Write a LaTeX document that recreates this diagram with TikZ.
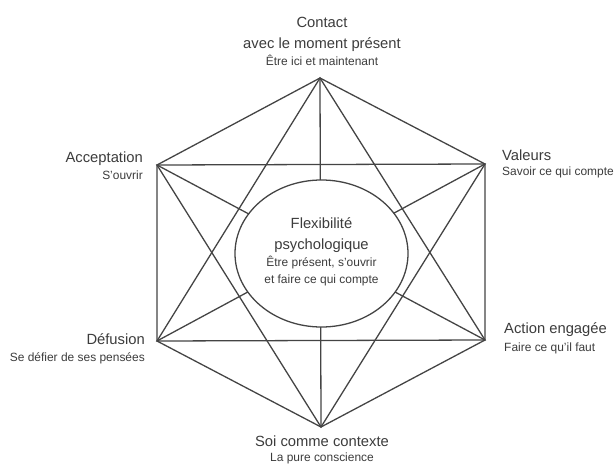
\documentclass[tikz,border=0pt]{standalone}
\usepackage{fontspec}
\setmainfont{Liberation Sans}
\usetikzlibrary{shapes.geometric,positioning}
\definecolor{inkgray}{HTML}{3C3C3C}
\definecolor{linegray}{HTML}{444444}
\newcommand{\bigtxt}{\fontsize{12.6}{15}\selectfont}
\newcommand{\smalltxt}{\fontsize{10.2}{12}\selectfont}

\begin{document}
\begin{tikzpicture}[x=0.3mm,y=-0.3mm,
  edge/.style={draw=linegray,line width=1.1pt},
  title/.style={text=inkgray,inner sep=0pt,font=\bigtxt},
  sub/.style={text=inkgray,inner sep=0pt,font=\smalltxt}]
  \useasboundingbox[fill=white] (0,0) rectangle (616,465);
  \coordinate (contact) at (320,78);
  \coordinate (accept) at (157,165);
  \coordinate (valeurs) at (485,164);
  \coordinate (defus) at (157,341);
  \coordinate (action) at (485,340);
  \coordinate (soi) at (321,427);
  \draw[edge] (contact) -- (accept) -- (defus) -- (soi) -- (action) -- (valeurs) -- cycle;
  \draw[edge] (contact) -- (defus) -- (action) -- cycle;
  \draw[edge] (soi) -- (accept) -- (valeurs) -- cycle;
  \draw[edge] (contact) -- (soi);
  \draw[edge] (accept) -- (action);
  \draw[edge] (valeurs) -- (defus);
  \node[ellipse,draw=linegray,line width=1.1pt,fill=white,inner sep=0pt,
        minimum width=51.9mm,minimum height=44.1mm] (flex) at (321.5,253.5) {};
  \node[title,anchor=base] (flex1) at (321.5,228) {Flexibilité};
  \node[title,anchor=base] (flex2) at (321.5,249) {psychologique};
  \node[sub,anchor=base] (flex3) at (321.5,266) {Être présent, s’ouvrir};
  \node[sub,anchor=base] (flex4) at (321.5,283) {et faire ce qui compte};
  \node[title,anchor=base] (contact1) at (322,27) {Contact};
  \node[title,anchor=base] (contact2) at (322,48) {avec le moment présent};
  \node[sub,anchor=base] (contact3) at (322,65) {Être ici et maintenant};
  \node[title,anchor=base east] (accept1) at (143,162) {Acceptation};
  \node[sub,anchor=base east] (accept2) at (143,179) {S’ouvrir};
  \node[title,anchor=base west] (valeurs1) at (502,160) {Valeurs};
  \node[sub,anchor=base west] (valeurs2) at (502,175) {Savoir ce qui compte};
  \node[title,anchor=base east] (defus1) at (145,344) {Défusion};
  \node[sub,anchor=base east] (defus2) at (145,361) {Se défier de ses pensées};
  \node[title,anchor=base west] (action1) at (504,333) {Action engagée};
  \node[sub,anchor=base west] (action2) at (504,351) {Faire ce qu’il faut};
  \node[title,anchor=base] (soi1) at (322,446) {Soi comme contexte};
  \node[sub,anchor=base] (soi2) at (322,461.5) {La pure conscience};
\end{tikzpicture}
\end{document}
